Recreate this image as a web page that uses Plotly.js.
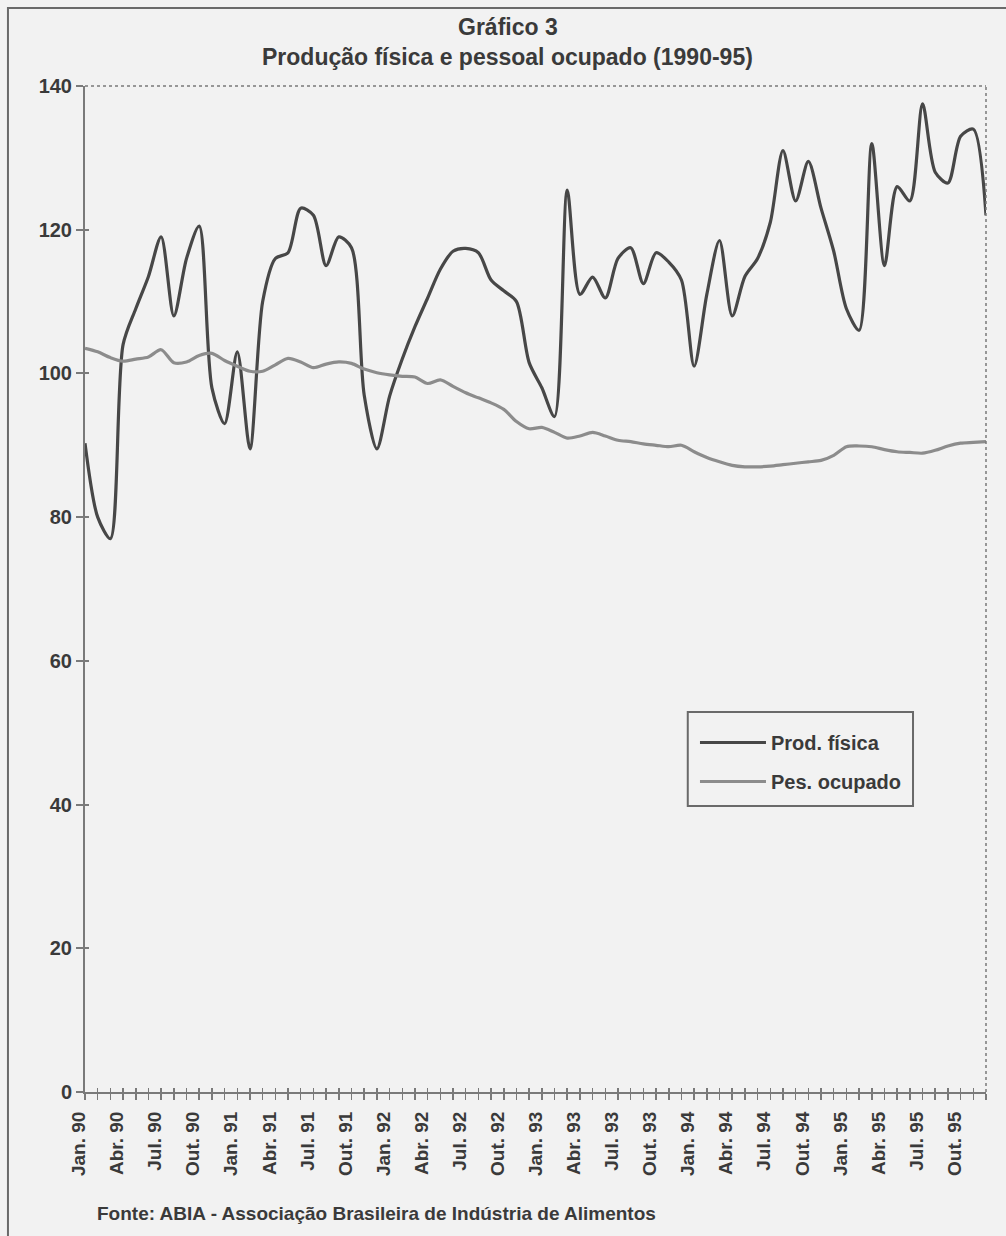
<!DOCTYPE html>
<html>
<head>
<meta charset="utf-8">
<script src="https://cdn.plot.ly/plotly-3.0.1.min.js"></script>
<style>
  html, body { margin: 0; padding: 0; background: #f2f2f2; }
  #chart { width: 1006px; height: 1236px; }
</style>
</head>
<body>
<div id="chart"></div>
<script>
// ---- data (monthly values) ----
const monthNames = ["Jan.", "Fev.", "Mar.", "Abr.", "Mai.", "Jun.", "Jul.", "Ago.", "Set.", "Out.", "Nov.", "Dez."];
const years = ["90", "91", "92", "93", "94", "95"];

const tickLabels = [
  "Jan. 90", "Abr. 90", "Jul. 90", "Out. 90",
  "Jan. 91", "Abr. 91", "Jul. 91", "Out. 91",
  "Jan. 92", "Abr. 92", "Jul. 92", "Out. 92",
  "Jan. 93", "Abr. 93", "Jul. 93", "Out. 93",
  "Jan. 94", "Abr. 94", "Jul. 94", "Out. 94",
  "Jan. 95", "Abr. 95", "Jul. 95", "Out. 95"
];

const prodFisica = [
  90.3, 80, 77, 104, 109, 113.5, 119, 108, 116, 120.5,
  98, 93, 103, 89.5, 110, 116, 116.8, 123, 122, 115,
  119, 117.5, 97, 89.5, 96.8, 102, 106.5, 110.5, 114.5, 117,
  117.4, 116.8, 113, 111.5, 110, 101.5, 98, 94, 125.5, 111,
  113.4, 110.5, 116, 117.5, 112.5, 116.8, 115.5, 113, 101, 111,
  118.5, 108, 113.5, 116, 121, 131, 124, 129.5, 123, 117,
  109, 106, 132, 115, 126, 124, 137.5, 128, 126.5, 133,
  134, 122
];

const pesOcupado = [
  103.5, 103, 102.2, 101.7, 102, 102.3, 103.3, 101.5, 101.6, 102.5,
  102.8, 101.8, 101, 100.3, 100.3, 101.2, 102.1, 101.6, 100.8, 101.3,
  101.6, 101.4, 100.6, 100.1, 99.8, 99.6, 99.5, 98.6, 99.1, 98.2,
  97.3, 96.6, 95.9, 95, 93.3, 92.3, 92.5, 91.8, 91, 91.3,
  91.8, 91.3, 90.7, 90.5, 90.2, 90, 89.8, 90, 89.1, 88.3,
  87.7, 87.2, 87, 87, 87.1, 87.3, 87.5, 87.7, 87.9, 88.6,
  89.8, 89.9, 89.8, 89.4, 89.1, 89, 88.9, 89.3, 89.9, 90.3,
  90.4, 90.5
];

const seriesNames = ["Prod. física", "Pes. ocupado"];
const yTicks = [0, 20, 40, 60, 80, 100, 120, 140];

// ---- categories ----
const months = [];
years.forEach(y => monthNames.forEach(m => months.push(m + " " + y)));
const tickText = months.map(m => (tickLabels.indexOf(m) >= 0 ? m : ""));

const FONT = "Liberation Sans, Arial, Helvetica, sans-serif";
const TXT = "#3a3a3a";
const AX = "#7a7a7a";

const traces = [
  {
    x: months, y: prodFisica, name: seriesNames[0], type: "scatter", mode: "lines",
    line: { color: "#474747", width: 3.2, shape: "spline", smoothing: 0.8 },
    legendgroup: "a"
  },
  {
    x: months, y: pesOcupado, name: seriesNames[1], type: "scatter", mode: "lines",
    line: { color: "#8c8c8c", width: 3.2, shape: "spline", smoothing: 0.8 },
    legendgroup: "b"
  },
  { x: [], y: [], xaxis: "x2", yaxis: "y2", showlegend: false, hoverinfo: "skip", type: "scatter", mode: "lines" }
];

const layout = {
  width: 1006, height: 1236,
  margin: { l: 85, r: 20, t: 86, b: 144 },
  paper_bgcolor: "#f2f2f2",
  plot_bgcolor: "#f2f2f2",
  font: { family: FONT, color: TXT },
  showlegend: true,
  legend: {
    x: 0.677, y: 0.3668, xanchor: "left", yanchor: "top",
    bgcolor: "rgba(0,0,0,0)", borderwidth: 0,
    font: { family: FONT, size: 20, color: TXT, weight: "bold" },
    traceorder: "grouped", tracegroupgap: 10, itemwidth: 66
  },
  xaxis: {
    type: "category", range: [0, 71],
    tickmode: "array", tickvals: months, ticktext: tickText,
    ticks: "outside", ticklen: 6, tickwidth: 1.5, tickcolor: AX,
    tickangle: -90, ticklabelstandoff: 4, ticklabelshift: -6,
    tickfont: { family: FONT, size: 19, color: TXT, weight: "bold" },
    showline: true, linecolor: AX, linewidth: 2,
    showgrid: false, zeroline: false, fixedrange: true
  },
  xaxis2: {
    overlaying: "x", anchor: "y", side: "bottom", type: "linear", range: [0, 71],
    tickmode: "linear", tick0: 0, dtick: 1, ticks: "inside", ticklen: 4, tickwidth: 1.5, tickcolor: AX,
    showticklabels: false, showline: false, showgrid: false, zeroline: false
  },
  yaxis: {
    range: [0, 140], tickmode: "array", tickvals: yTicks,
    ticks: "outside", ticklen: 7, tickwidth: 2, tickcolor: AX,
    tickfont: { family: FONT, size: 20, color: TXT, weight: "bold" },
    showline: true, linecolor: AX, linewidth: 2,
    showgrid: false, zeroline: false, fixedrange: true
  },
  yaxis2: {
    overlaying: "y", anchor: "x", side: "left", range: [0, 140],
    tickmode: "array", tickvals: yTicks, ticks: "inside", ticklen: 4, tickwidth: 2, tickcolor: AX,
    showticklabels: false, showline: false, showgrid: false, zeroline: false
  },
  shapes: [
    { type: "line", xref: "paper", yref: "paper", x0: 0, x1: 1, y0: 1, y1: 1,
      line: { color: "#7a7a7a", width: 1.5, dash: "dot" } },
    { type: "line", xref: "paper", yref: "paper", x0: 1, x1: 1, y0: 0, y1: 1,
      line: { color: "#7a7a7a", width: 1.5, dash: "dot" } },
    { type: "rect", xref: "paper", yref: "paper", x0: -0.0855, x1: 1.2, y0: -0.4, y1: 1.0775,
      line: { color: "#6a6a6a", width: 2 } },
    // legend frame
    { type: "rect", xref: "paper", yref: "paper", x0: 0.669, x1: 0.919, y0: 0.2843, y1: 0.3777,
      line: { color: "#6a6a6a", width: 2 } }
  ],
  annotations: [
    { text: "Gráfico 3", xref: "paper", yref: "paper", x: 0.469, y: 1.0587,
      xanchor: "center", yanchor: "middle", showarrow: false,
      font: { family: FONT, size: 23, color: TXT, weight: "bold" } },
    { text: "Produção física e pessoal ocupado (1990-95)", xref: "paper", yref: "paper", x: 0.469, y: 1.0289,
      xanchor: "center", yanchor: "middle", showarrow: false,
      font: { family: FONT, size: 23, color: TXT, weight: "bold" } },
    { text: "Fonte: ABIA - Associação Brasileira de Indústria de Alimentos", xref: "paper", yref: "paper",
      x: 0.011, y: -0.1203, xanchor: "left", yanchor: "middle", showarrow: false,
      font: { family: FONT, size: 19, color: TXT, weight: "bold" } }
  ]
};

Plotly.newPlot("chart", traces, layout, { displayModeBar: false, staticPlot: true });
</script>
</body>
</html>
